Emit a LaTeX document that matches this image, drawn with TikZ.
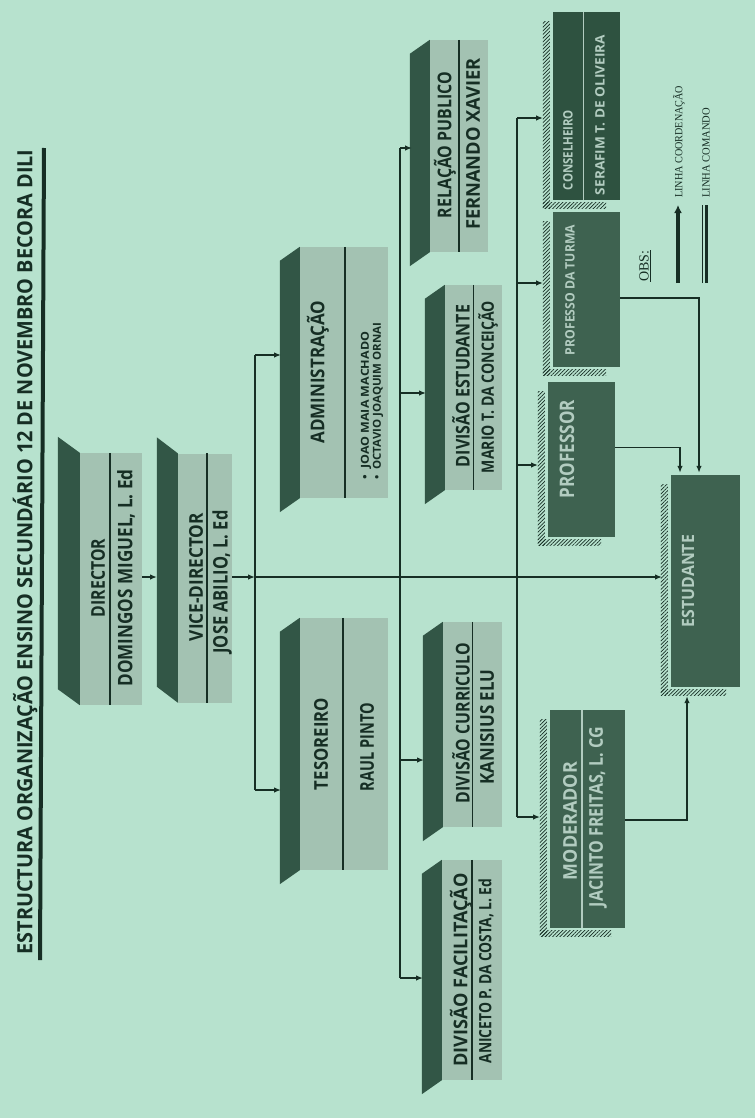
\documentclass[tikz,border=0pt]{standalone}
\usepackage{graphicx}
\usepackage{fontspec}
\setmainfont{Open Sans}
\newfontfamily\serfont{Liberation Serif}
\usetikzlibrary{arrows.meta,patterns,patterns.meta,calc}
\definecolor{bgc}{RGB}{183,226,206}
\definecolor{lightc}{RGB}{163,194,178}
\definecolor{bevc}{RGB}{50,86,70}
\definecolor{darkc}{RGB}{62,98,80}
\definecolor{darkerc}{RGB}{46,82,64}
\definecolor{inkc}{RGB}{22,46,36}
\definecolor{palec}{RGB}{178,204,192}
\newcommand{\fitt}[3]{\resizebox{#1pt}{\height}{\fontsize{#2}{#2}\selectfont\bfseries #3}}
\newcommand{\fittn}[3]{\resizebox{#1pt}{\height}{\fontsize{#2}{#2}\selectfont #3}}
\newcommand{\bev}[3]{\fill[bevc] (#1.north west) -- ([xshift=-#2pt,yshift=#3pt]#1.north west) -- ([xshift=-#2pt,yshift=#3pt]#1.south west) -- (#1.south west) -- cycle;}
\newcommand{\hatchsh}[1]{%
  \fill[pattern={Lines[angle=45,distance=2.6pt,line width=0.7pt]}, pattern color=inkc] ([shift={(-10pt,-10pt)}]#1.north west) rectangle ([shift={(-3pt,-8pt)}]#1.south west);
  \fill[pattern={Lines[angle=45,distance=2.6pt,line width=0.7pt]}, pattern color=inkc] ([shift={(-10pt,-2pt)}]#1.south west) rectangle ([shift={(-14pt,-8pt)}]#1.south east);}
\tikzset{
  lbox/.style={fill=lightc, draw=none, inner sep=0pt, rectangle},
  dbox/.style={fill=darkc, draw=none, inner sep=0pt, rectangle},
  arr/.style={draw=inkc, line width=1.3pt, -{Latex[length=7pt,width=5.5pt]}},
  ln/.style={draw=inkc, line width=1.3pt},
  divl/.style={draw=inkc, line width=1.6pt},
  txt/.style={rotate=90, inner sep=0pt, text=inkc},
}
\begin{document}
\begin{tikzpicture}[x=1pt,y=-1pt]
\useasboundingbox (0,0) rectangle (755,1118);
\fill[bgc] (0,0) rectangle (755,1118);

% title
\node[txt] (title) at (25,552) {\fitt{805}{21}{ESTRUCTURA ORGANIZAÇÃO ENSINO SECUNDÁRIO 12 DE NOVEMBRO BECORA DILI}};
\draw[inkc, line width=4pt] (44,148) -- (40,960);

% row 1
\node[lbox, minimum width=62pt, minimum height=252pt] (dir) at (111,579) {};
\bev{dir}{22}{16}
\draw[divl] ([xshift=-1pt]dir.north) -- ([xshift=-1pt]dir.south);
\node[txt] (dirT) at (98,578) {\fitt{78}{19}{DIRECTOR}};
\node[txt] (dirN) at (126,578) {\fitt{217}{20}{DOMINGOS MIGUEL, L. Ed}};

\node[lbox, minimum width=54pt, minimum height=249pt] (vice) at (205,578) {};
\bev{vice}{21}{16}
\draw[divl] ([xshift=2pt]vice.north) -- ([xshift=2pt]vice.south);
\node[txt] (viceT) at (196,577) {\fitt{128}{19}{VICE-DIRECTOR}};
\node[txt] (viceN) at (222,582) {\fitt{143}{20}{JOSE ABILIO, L. Ed}};

% row 2
\node[lbox, minimum width=88pt, minimum height=251pt] (adm) at (344,372.5) {};
\bev{adm}{20}{-14}
\draw[divl] ([xshift=1pt]adm.north) -- ([xshift=1pt]adm.south);
\node[txt] (admT) at (318,372) {\fitt{143}{19}{ADMINISTRAÇÃO}};
\node[txt, anchor=west] (admA) at (366,480) {\fitt{148}{11}{•\ \ JOAO MAIA MACHADO}};
\node[txt, anchor=west] (admB) at (378,480) {\fitt{157}{11}{•\ \ OCTAVIO JOAQUIM ORNAI}};

\node[lbox, minimum width=88pt, minimum height=252pt] (tes) at (344,744) {};
\bev{tes}{20}{-14}
\draw[divl] ([xshift=-1pt]tes.north) -- ([xshift=-1pt]tes.south);
\node[txt] (tesT) at (321,744) {\fitt{92}{19}{TESOREIRO}};
\node[txt] (tesN) at (367,747) {\fitt{88}{19}{RAUL PINTO}};

% row 3
\node[lbox, minimum width=58pt, minimum height=212pt] (rel) at (459,146) {};
\bev{rel}{20}{-14}
\draw[divl] (rel.north) -- (rel.south);
\node[txt] (relT) at (445,145) {\fitt{146}{19}{RELAÇÃO PUBLICO}};
\node[txt] (relN) at (473,144) {\fitt{172}{19}{FERNANDO XAVIER}};

\node[lbox, minimum width=57pt, minimum height=205pt] (dest) at (473.5,387.5) {};
\bev{dest}{20}{-14}
\draw[divl] (dest.north) -- (dest.south);
\node[txt] (destT) at (461,386) {\fitt{162}{19}{DIVISÃO ESTUDANTE}};
\node[txt] (destN) at (488,387) {\fitt{172}{17}{MARIO T. DA CONCEIÇÃO}};

\node[lbox, minimum width=59pt, minimum height=205pt] (dcur) at (472.5,724.5) {};
\bev{dcur}{20}{-14}
\draw[divl] (dcur.north) -- (dcur.south);
\node[txt] (dcurT) at (461,723) {\fitt{160}{19}{DIVISÃO CURRICULO}};
\node[txt] (dcurN) at (487,727) {\fitt{115}{19}{KANISIUS ELU}};

\node[lbox, minimum width=60pt, minimum height=220pt] (dfac) at (472,970) {};
\bev{dfac}{20}{-14}
\draw[divl] (dfac.north) -- (dfac.south);
\node[txt] (dfacT) at (461,970) {\fitt{193}{19}{DIVISÃO FACILITAÇÃO}};
\node[txt] (dfacN) at (486,971) {\fitt{185}{17}{ANICETO P. DA COSTA, L. Ed}};

% row 4 (dark boxes)
\node[dbox, fill=darkerc, minimum width=67pt, minimum height=188pt] (cons) at (586.5,106) {};
\hatchsh{cons}
\draw[palec, line width=0.8pt] ([xshift=-3pt]cons.north) -- ([xshift=-3pt]cons.south);
\node[txt, text=palec] (consT) at (568,150) {\fitt{80}{13}{CONSELHEIRO}};
\node[txt, text=palec] (consN) at (600,115) {\fitt{160}{13}{SERAFIM T. DE OLIVEIRA}};

\node[dbox, minimum width=67pt, minimum height=155pt] (pt) at (586.5,289.5) {};
\hatchsh{pt}
\node[txt, text=palec] (ptT) at (570,290) {\fitt{130}{13}{PROFESSO DA TURMA}};

\node[dbox, minimum width=67pt, minimum height=155pt] (prof) at (581.5,459.5) {};
\hatchsh{prof}
\node[txt, text=palec] (profT) at (567,449) {\fitt{98}{20}{PROFESSOR}};

\node[dbox, minimum width=75pt, minimum height=218pt] (mod) at (587.5,819) {};
\hatchsh{mod}
\draw[palec, line width=1.2pt] ([xshift=-5.5pt]mod.north) -- ([xshift=-5.5pt]mod.south);
\node[txt, text=palec] (modT) at (570,821) {\fitt{118}{19}{MODERADOR}};
\node[txt, text=palec] (modN) at (598,817) {\fitt{180}{19}{JACINTO FREITAS, L. CG}};

\node[dbox, minimum width=69pt, minimum height=212pt] (est) at (705.5,581) {};
\hatchsh{est}
\node[txt, text=palec] (estT) at (688,581) {\fitt{92}{17}{ESTUDANTE}};

% connectors
\coordinate (viceL) at (157,577);
\draw[arr] (dir.east |- viceL) -- (viceL);
\coordinate (j1) at (255,577);
\draw[arr] (vice.east |- j1) -- (j1);
\coordinate (estIn) at (662,577);
\draw[arr] (j1) -- (estIn);

\coordinate (t1a) at (255,355);
\coordinate (t1b) at (255,790);
\draw[ln] (t1a) -- (t1b);
\coordinate (admL) at (281,355);
\coordinate (tesL) at (281,790);
\draw[arr] (t1a) -- (admL);
\draw[arr] (t1b) -- (tesL);

\coordinate (t2a) at (400,148);
\coordinate (t2b) at (400,978);
\draw[ln] (t2a) -- (t2b);
\coordinate (relL) at (412,148);
\coordinate (destL) at (426,393);
\coordinate (dcurL) at (424,760);
\coordinate (dfacL) at (423,978);
\draw[arr] (t2a) -- (relL);
\draw[arr] (t2a |- destL) -- (destL);
\draw[arr] (t2a |- dcurL) -- (dcurL);
\draw[arr] (t2b) -- (dfacL);

\coordinate (t3a) at (517,118);
\coordinate (t3b) at (517,817);
\draw[ln] (t3a) -- (t3b);
\coordinate (consL) at (543,118);
\coordinate (ptL) at (543,283);
\coordinate (profL) at (538,465);
\coordinate (modL) at (540,817);
\draw[arr] (t3a) -- (consL);
\draw[arr] (t3a |- ptL) -- (ptL);
\draw[arr] (t3a |- profL) -- (profL);
\draw[arr] (t3b) -- (modL);

\draw[arr] ([yshift=12pt]prof.east) -| ([xshift=-25.5pt,yshift=2pt]est.north);
\draw[arr] ([yshift=-8.5pt]pt.east) -| ([xshift=-6.5pt,yshift=2pt]est.north);
\draw[arr] ([yshift=-1pt]mod.east) -| ([xshift=-18.5pt,yshift=-9pt]est.south);

% legend
\node[txt] (obs) at (645,266) {\serfont\fontsize{14}{14}\selectfont\underline{OBS:}};
\coordinate (lgA1) at (678,283);
\coordinate (lgA2) at (678,205);
\draw[inkc, line width=3.5pt, -{Latex[length=8pt,width=8pt]}] (lgA1) -- (lgA2);
\node[txt, anchor=west] (lgT1) at (679,198) {\serfont\fittn{112}{11}{LINHA COORDENAÇÃO}};
\coordinate (lgB1) at (702,283);
\coordinate (lgB2) at (702,205);
\draw[inkc, line width=0.8pt] (lgB1) -- (lgB2);
\draw[inkc, line width=3pt] ([xshift=4pt]lgB1) -- ([xshift=4pt]lgB2);
\node[txt, anchor=west] (lgT2) at (706,198) {\serfont\fittn{90}{11}{LINHA COMANDO}};
\end{tikzpicture}
\end{document}
